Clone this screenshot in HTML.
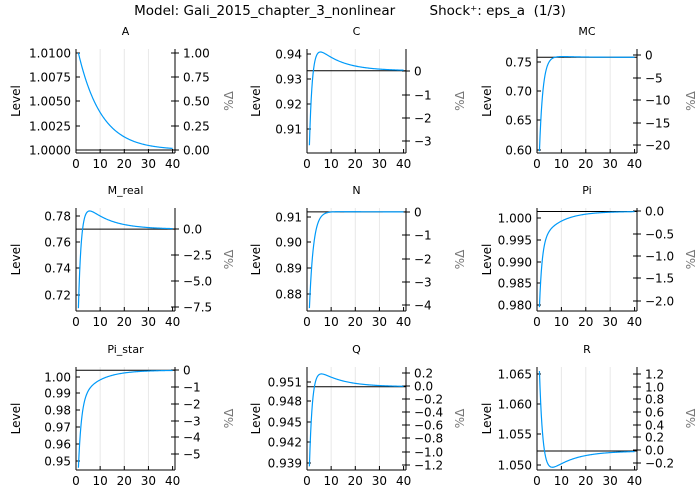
<!DOCTYPE html>
<html><head><meta charset="utf-8"><style>
html,body{margin:0;padding:0;background:#fff;}
svg{display:block;font-family:"DejaVu Sans","Liberation Sans",sans-serif;}
</style></head><body>
<svg id="s" width="700" height="500" viewBox="0 0 700 500" xmlns="http://www.w3.org/2000/svg">
<rect width="700" height="500" fill="#fff"/>
<text x="350" y="15" font-size="13.5" text-anchor="middle" style="white-space:pre" xml:space="preserve">Model: Gali_2015_chapter_3_nonlinear        Shock⁺: eps_a  (1/3)</text>
</svg>
<script>
const S=document.getElementById('s');
const NS='http://www.w3.org/2000/svg';
function el(t,a,txt){const e=document.createElementNS(NS,t);for(const k in a)e.setAttribute(k,a[k]);if(txt!==undefined)e.textContent=txt;S.appendChild(e);return e;}
const cols=[[76,175],[307,406],[537,637]];
const lvlOff=[56,47,46];
const rows=[[49,153],[208,311],[367,470]];
function hump(t,B,s,fast,slow){return B*Math.pow(slow,t-1)-(B+s)*Math.pow(fast,t-1);}
const P=[
 {n:'A',c:0,r:0,lt:[['1.0100',1.01,53],['1.0075',1.0075,77],['1.0050',1.005,101],['1.0025',1.0025,126],['1.0000',1.0,150]],
  rt:[['1.00',53],['0.75',77],['0.50',101],['0.25',126],['0.00',150]],ss:1.0,f:t=>1+0.01*Math.pow(0.9,t-1)},
 {n:'C',c:1,r:0,lt:[['0.94',0.94,54],['0.93',0.93,79],['0.92',0.92,104],['0.91',0.91,129]],
  rt:[['0',71],['−1',95],['−2',118],['−3',141]],ss:0.9333,f:t=>0.9333+hump(t,0.014,0.0298,0.45,0.9)},
 {n:'MC',c:2,r:0,lt:[['0.75',0.75,62],['0.70',0.70,91],['0.65',0.65,120],['0.60',0.60,150]],
  rt:[['0',55],['−5',78],['−10',100],['−15',123],['−20',145]],ss:0.758,f:t=>0.758+hump(t,0.004,0.16,0.5,0.9)},
 {n:'M_real',c:0,r:1,lt:[['0.78',0.78,216],['0.76',0.76,242],['0.74',0.74,268],['0.72',0.72,295]],
  rt:[['0.0',229],['−2.5',255],['−5.0',281],['−7.5',307]],ss:0.770,f:t=>0.770+hump(t,0.026,0.060,0.45,0.9)},
 {n:'N',c:1,r:1,lt:[['0.91',0.91,217],['0.90',0.90,242],['0.89',0.89,268],['0.88',0.88,294]],
  rt:[['0',212],['−1',235],['−2',259],['−3',282],['−4',305]],ss:0.912,f:t=>0.912-0.0375*Math.pow(0.55,t-1)+0.0003*(1-Math.pow(0.55,t-1))*Math.pow(0.9,t-1)},
 {n:'Pi',c:2,r:1,lt:[['1.000',1.0,218],['0.995',0.995,240],['0.990',0.99,262],['0.985',0.985,283],['0.980',0.98,305]],
  rt:[['0.0',211],['−0.5',234],['−1.0',256],['−1.5',278],['−2.0',301]],ss:1.0015,f:t=>1.0015-0.015*Math.pow(0.4,t-1)-0.007*Math.pow(0.88,t-1)},
 {n:'Pi_star',c:0,r:2,lt:[['1.00',1.0,377],['0.99',0.99,393],['0.98',0.98,410],['0.97',0.97,427],['0.96',0.96,444],['0.95',0.95,461]],
  rt:[['0',370],['−1',387],['−2',404],['−3',421],['−4',437],['−5',454]],ss:1.004,f:t=>1.004-0.04*Math.pow(0.45,t-1)-0.018*Math.pow(0.88,t-1)},
 {n:'Q',c:1,r:2,lt:[['0.951',0.951,382],['0.948',0.948,401],['0.945',0.945,422],['0.942',0.942,442],['0.939',0.939,463]],
  rt:[['0.2',373],['0.0',386],['−0.2',399],['−0.4',412],['−0.6',425],['−0.8',438],['−1.0',452],['−1.2',465]],ss:0.9503,f:t=>0.9503+hump(t,0.0037,0.0118,0.45,0.9)},
 {n:'R',c:2,r:2,lt:[['1.065',1.065,374],['1.060',1.06,404],['1.055',1.055,434],['1.050',1.05,465]],
  rt:[['1.2',374],['1.0',387],['0.8',399],['0.6',412],['0.4',425],['0.2',437],['0.0',450],['−0.2',463]],ss:1.0523,f:t=>1.0523-hump(t,0.0055,0.0132,0.5,0.9)},
];
P.forEach(p=>{
 const [L,R]=cols[p.c],[T,B]=rows[p.r];
 const a=p.lt[0],b=p.lt[p.lt.length-1];
 const Y=v=>a[2]+(v-a[1])*(b[2]-a[2])/(b[1]-a[1]);
 const X=t=>L+(t/41)*(R-L);
 for(const t of [10,20,30]) el('line',{x1:X(t),x2:X(t),y1:T,y2:B,stroke:'#e8e8e8','stroke-width':1});
 el('text',{x:(L+R)/2,y:T-14,'font-size':11,'text-anchor':'middle'},p.n);
 el('line',{x1:L,x2:L,y1:T,y2:B,stroke:'#000','stroke-width':1});
 el('line',{x1:R,x2:R,y1:T,y2:B,stroke:'#000','stroke-width':1});
 el('line',{x1:L,x2:R,y1:B,y2:B,stroke:'#000','stroke-width':1});
 p.lt.forEach(k=>{el('line',{x1:L,x2:L+4,y1:k[2],y2:k[2],stroke:'#000'});
  el('text',{x:L-5,y:k[2]+4.3,'font-size':12,'text-anchor':'end'},k[0]);});
 p.rt.forEach(k=>{el('line',{x1:R-4,x2:R+4,y1:k[1],y2:k[1],stroke:'#000'});
  el('text',{x:R+8,y:k[1]+4.3,'font-size':12},k[0]);});
 for(const t of [0,10,20,30,40]){el('line',{x1:X(t),x2:X(t),y1:B,y2:B-4,stroke:'#000'});
  el('text',{x:X(t),y:B+15,'font-size':12,'text-anchor':'middle'},String(t));}
 el('text',{transform:`translate(${L-lvlOff[p.c]},${(T+B)/2}) rotate(-90)`,'font-size':12,'text-anchor':'middle'},'Level');
 el('text',{transform:`translate(${R+58},${(T+B)/2}) rotate(-90)`,'font-size':12,'text-anchor':'middle',fill:'#777'},'%Δ');
 el('line',{x1:L,x2:R,y1:Y(p.ss),y2:Y(p.ss),stroke:'#000','stroke-width':1});
 let d='';for(let t=1;t<=40;t+=0.25){d+=(t===1?'M':'L')+X(t).toFixed(2)+','+Y(p.f(t)).toFixed(2);}
 el('path',{d:d,fill:'none',stroke:'#009af9','stroke-width':1.2});
});
</script>
</body></html>
